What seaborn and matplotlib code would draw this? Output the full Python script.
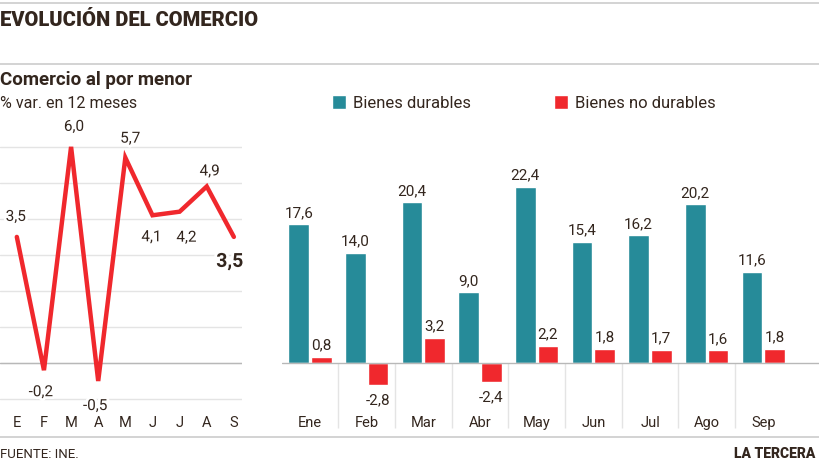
import matplotlib
matplotlib.use('Agg')
import matplotlib.pyplot as plt
import matplotlib.patheffects as pe
from matplotlib.lines import Line2D
import pandas as pd
import seaborn as sns

# data
meses_cortos = ["E", "F", "M", "A", "M", "J", "J", "A", "S"]
comercio_menor = [3.5, -0.2, 6.0, -0.5, 5.7, 4.1, 4.2, 4.9, 3.5]

meses = ["Ene", "Feb", "Mar", "Abr", "May", "Jun", "Jul", "Ago", "Sep"]
durables = [17.6, 14.0, 20.4, 9.0, 22.4, 15.4, 16.2, 20.2, 11.6]
no_durables = [0.8, -2.8, 3.2, -2.4, 2.2, 1.8, 1.7, 1.6, 1.8]

TEAL = "#268b99"
RED = "#f0282d"
TXT = "#33261e"
GRID = "#e4e4e4"
RULE = "#cccccc"

sns.set_style("white")
plt.rcParams['font.family'] = ['Roboto', 'DejaVu Sans']
plt.rcParams['text.color'] = TXT

fig = plt.figure(figsize=(8.2, 4.63), dpi=100)
W, H = 820, 463


def fy(py):
    return 1 - py / H


# header / footer rules
for py in (2.5, 64, 437):
    fig.add_artist(Line2D([0, 1], [fy(py), fy(py)], transform=fig.transFigure,
                          color=RULE, lw=1.2))

fig.text(0, fy(20), "EVOLUCIÓN DEL COMERCIO", fontsize=14.5, fontweight='black',
         va='center', ha='left')
fig.text(0, fy(80), "Comercio al por menor", fontsize=13.5, fontweight='bold',
         va='center', ha='left')
fig.text(0, fy(103), "% var. en 12 meses", fontsize=11.5, va='center', ha='left')
fig.text(0, fy(454), "FUENTE: INE.", fontsize=9.5, va='center', ha='left')
fig.text(815 / W, fy(454), "LA TERCERA", fontsize=10, fontweight='black',
         va='center', ha='right')

# ---- left: line chart ----
ax1 = fig.add_axes([0, (H - 430) / H, 242 / W, 290 / H])
x_idx = list(range(len(meses_cortos)))
df_line = pd.DataFrame({"x": x_idx, "valor": comercio_menor})
sns.lineplot(data=df_line, x="x", y="valor", ax=ax1, color=RED, lw=3.2,
             solid_joinstyle='miter', zorder=3)
ax1.set_xlim(-0.62, 8.3)
ax1.set_ylim(-1.86, 6.19)
ax1.set_yticks(range(-1, 7))
ax1.set_xticks([])
ax1.tick_params(left=False, labelleft=False)
ax1.grid(axis='y', color=GRID, lw=1)
ax1.axhline(0, color="#b8b8b8", lw=1, zorder=1)
ax1.set_xlabel("")
ax1.set_ylabel("")
sns.despine(ax=ax1, left=True, bottom=True)

offsets = [(-1, 20), (-3, -22), (3, 20), (-3, -25), (5, 19), (-1, -22),
           (7, -26), (3, 15), (-4, -25)]
halo = [pe.withStroke(linewidth=4, foreground='white')]
for i, (v, off) in enumerate(zip(comercio_menor, offsets)):
    last = i == len(comercio_menor) - 1
    ax1.annotate(f"{v:.1f}".replace(".", ","), (i, v), xytext=off,
                 textcoords='offset pixels', ha='center', va='center',
                 fontsize=14 if last else 11,
                 fontweight='bold' if last else 'normal',
                 path_effects=halo, zorder=4)
for i, m in enumerate(meses_cortos):
    ax1.text(i, -1.67, m, ha='center', va='center', fontsize=10.5)

# ---- right: grouped bars ----
ax2 = fig.add_axes([281.7 / W, (H - 430) / H, (W - 281.7) / W, 290 / H])
df_bar = pd.DataFrame({
    "mes": meses * 2,
    "valor": durables + no_durables,
    "tipo": ["Bienes durables"] * len(meses) + ["Bienes no durables"] * len(meses),
})
sns.barplot(data=df_bar, x="mes", y="valor", hue="tipo", palette=[TEAL, RED],
            width=0.8, gap=0.1, ax=ax2, zorder=2, saturation=1)
ax2.set_xlim(-0.5, 9.0)
ax2.set_ylim(-8.51, 28.33)
ax2.axhline(0, color="#b8b8b8", lw=1, zorder=3)
ax2.vlines([i + 0.5 for i in range(len(meses) - 1)], -8.26, 0, color=GRID, lw=1,
           zorder=1)
ax2.set_xticks([])
ax2.set_yticks([])
ax2.set_xlabel("")
ax2.set_ylabel("")
sns.despine(ax=ax2, left=True, bottom=True)

for cont, vals in zip(ax2.containers, [durables, no_durables]):
    fmt = [f"{v:.1f}".replace(".", ",") for v in vals]
    ax2.bar_label(cont, labels=[t if v >= 0 else "" for t, v in zip(fmt, vals)],
                  padding=3, fontsize=11, color=TXT)
    ax2.bar_label(cont, labels=[t if v < 0 else "" for t, v in zip(fmt, vals)],
                  padding=6, fontsize=11, color=TXT)
for i, m in enumerate(meses):
    ax2.text(i, -7.62, m, ha='center', va='center', fontsize=10.5)

sns.move_legend(ax2, loc='center left', bbox_to_anchor=(332 / W, fy(103)),
                bbox_transform=fig.transFigure, ncol=2, frameon=False, title=None,
                fontsize=12, handlelength=0.85, handleheight=0.9,
                handletextpad=0.4, columnspacing=5.0, borderpad=0,
                borderaxespad=0)
for t in ax2.get_legend().get_texts():
    t.set_color(TXT)

fig.savefig("out.png", dpi=100)
